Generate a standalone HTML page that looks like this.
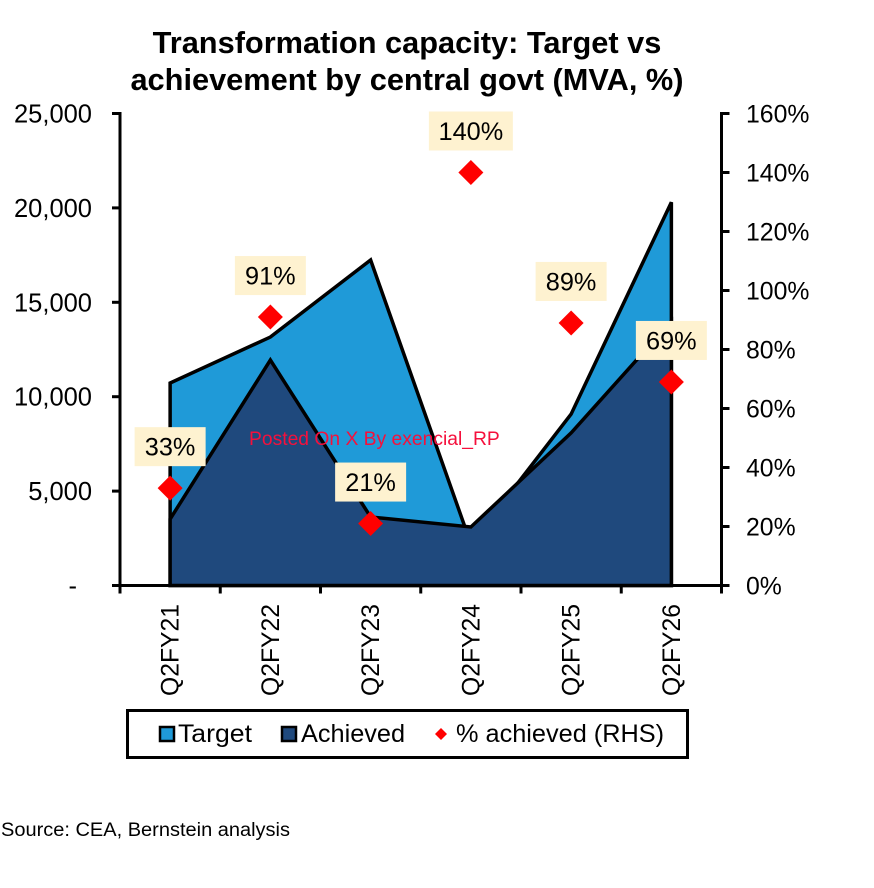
<!DOCTYPE html>
<html>
<head>
<meta charset="utf-8">
<style>
html,body{margin:0;padding:0;background:#fff;}
#wrap{position:relative;width:874px;height:888px;overflow:hidden;}
svg{display:block;}
text{font-family:"Liberation Sans",sans-serif;fill:#000;}
</style>
</head>
<body>
<div id="wrap">
<svg id="chart" width="874" height="888" viewBox="0 0 874 888" xmlns="http://www.w3.org/2000/svg">
  <text x="407" y="53" text-anchor="middle" font-size="30.75" font-weight="bold">Transformation capacity: Target vs</text>
  <text x="407" y="90" text-anchor="middle" font-size="30.75" font-weight="bold">achievement by central govt (MVA, %)</text>
  <g id="areas"></g>
  <g id="axes"></g>
  <text x="249" y="445" font-size="19.3" style="fill:#f5103c">Posted On X By exencial_RP</text>
  <g id="marks"></g>
  <g>
    <rect x="127.5" y="710.5" width="560" height="47" fill="#fff" stroke="#000" stroke-width="3"/>
    <rect x="160" y="727" width="14" height="14" fill="#1F9AD8" stroke="#000" stroke-width="2.5"/>
    <text x="178" y="742" font-size="25.3" textLength="74" lengthAdjust="spacingAndGlyphs">Target</text>
    <rect x="282" y="727" width="14" height="14" fill="#1F497D" stroke="#000" stroke-width="2.5"/>
    <text x="301" y="742" font-size="25.3">Achieved</text>
    <polygon points="441,728 447,734 441,740 435,734" fill="#f00"/>
    <text x="456" y="742" font-size="25.3">% achieved (RHS)</text>
  </g>
  <text x="1" y="836" font-size="19" textLength="289" lengthAdjust="spacingAndGlyphs">Source: CEA, Bernstein analysis</text>
</svg>
</div>
<script>
const categories = ['Q2FY21','Q2FY22','Q2FY23','Q2FY24','Q2FY25','Q2FY26'];
const targetValues = [10725,13160,17240,2210,9080,20300];
const achievedValues = [3520,11940,3630,3100,8080,14000];
const percentValues = [33,91,21,140,89,69];
const percentLabels = ['33%','91%','21%','140%','89%','69%'];
const leftTickValues = [0,5000,10000,15000,20000,25000];
const leftTickLabels = ['-','5,000','10,000','15,000','20,000','25,000'];
const rightTickValues = [0,20,40,60,80,100,120,140,160];
const rightTickLabels = ['0%','20%','40%','60%','80%','100%','120%','140%','160%'];

const NS = 'http://www.w3.org/2000/svg';
const plot = {left:120, right:721.5, top:113.5, bottom:585.5};
const leftMax = 25000, rightMax = 160;
function xBand(i){ return plot.left + (plot.right-plot.left)*i/categories.length; }
function xCenter(i){ return xBand(i+0.5); }
function yLeft(v){ return plot.bottom - (plot.bottom-plot.top)*v/leftMax; }
function yRight(v){ return plot.bottom - (plot.bottom-plot.top)*v/rightMax; }
function make(tag, attrs, parent, text){
  const el = document.createElementNS(NS, tag);
  for(const k in attrs){ el.setAttribute(k, attrs[k]); }
  if(text !== undefined){ el.textContent = text; }
  parent.appendChild(el);
  return el;
}
function areaPoints(values){
  const pts = values.map((v,i)=>xCenter(i)+','+yLeft(v));
  pts.unshift(xCenter(0)+','+plot.bottom);
  pts.push(xCenter(values.length-1)+','+plot.bottom);
  return pts.join(' ');
}
const areas = document.getElementById('areas');
const axes = document.getElementById('axes');
const marks = document.getElementById('marks');

const targetArea = make('polygon',{points:areaPoints(targetValues),fill:'#1F9AD8',stroke:'#000','stroke-width':3.5,'stroke-linejoin':'miter'},areas);


const achievedArea = make('polygon',{points:areaPoints(achievedValues),fill:'#1F497D',stroke:'#000','stroke-width':3.5,'stroke-linejoin':'miter'},areas);



const axisStyle = {stroke:'#000','stroke-width':3,fill:'none'};
const leftAxis = make('line',Object.assign({x1:plot.left,x2:plot.left,y1:plot.top-1.5,y2:plot.bottom+8},axisStyle),axes);


const rightAxis = make('line',Object.assign({x1:plot.right,x2:plot.right,y1:plot.top-1.5,y2:plot.bottom+8},axisStyle),axes);


const bottomAxis = make('line',Object.assign({x1:plot.left-8,x2:plot.right+8,y1:plot.bottom,y2:plot.bottom},axisStyle),axes);



leftTickValues.forEach((v,i)=>{
  const y = yLeft(v);
  const tick = make('line',Object.assign({x1:plot.left-8,x2:plot.left,y1:y,y2:y},axisStyle),axes);
  
  
  const labelX = leftTickLabels[i] === '-' ? 77 : 92;
  const label = make('text',{x:labelX,y:y+9,'text-anchor':'end','font-size':25.5},axes,leftTickLabels[i]);
  
  
});
rightTickValues.forEach((v,i)=>{
  const y = yRight(v);
  const tick = make('line',Object.assign({x1:plot.right,x2:plot.right+8,y1:y,y2:y},axisStyle),axes);
  
  
  const label = make('text',{x:746,y:y+9,'font-size':24.8},axes,rightTickLabels[i]);
  
  
});
for(let i=0;i<=categories.length;i++){
  const x = xBand(i);
  const tick = make('line',Object.assign({x1:x,x2:x,y1:plot.bottom,y2:plot.bottom+8},axisStyle),axes);
  
  
}
categories.forEach((c,i)=>{
  const x = xCenter(i)+8.5;
  const label = make('text',{x:x,y:604,'text-anchor':'end','font-size':24.7,transform:'rotate(-90 '+x+' 604)'},axes,c);
  
  
});
percentValues.forEach((v,i)=>{
  const x = xCenter(i), y = yRight(v);
  const d = 12.5;
  const marker = make('polygon',{points:[x,y-d,x+d,y,x,y+d,x-d,y].join(' '),fill:'#f00'},marks);
  
  
});
percentValues.forEach((v,i)=>{
  const x = xCenter(i), y = yRight(v);
  const w = percentLabels[i].length > 3 ? 84 : 71;
  const box = make('rect',{x:x-w/2,y:y-61,width:w,height:39,fill:'#FEF2D0'},marks);
  
  
  const label = make('text',{x:x,y:y-32.5,'text-anchor':'middle','font-size':25.3},marks,percentLabels[i]);
  
  
});
</script>
</body>
</html>
